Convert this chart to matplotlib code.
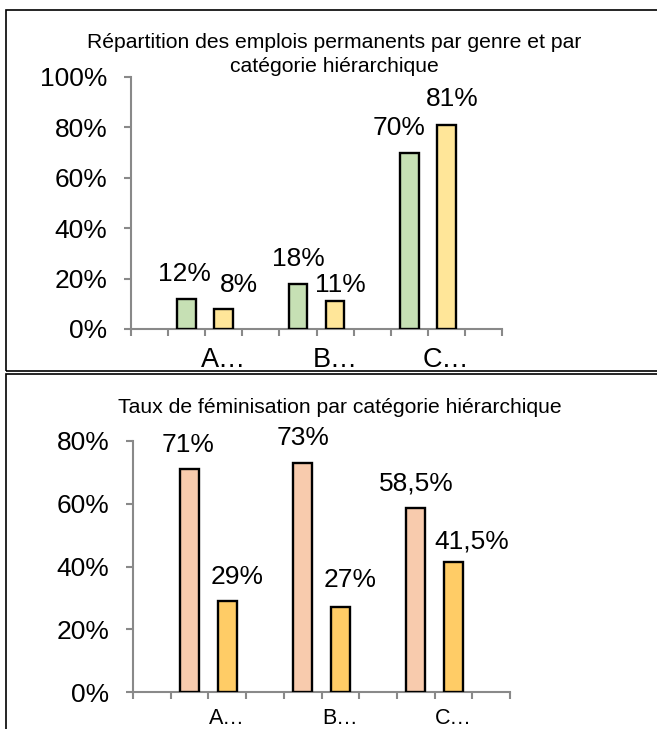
import matplotlib
matplotlib.use("Agg")
import matplotlib.pyplot as plt
from matplotlib.patches import Rectangle

plt.rcParams['font.family'] = ['Liberation Sans', 'DejaVu Sans']

# data
categories = ["A…", "B…", "C…"]
emplois_vert = [0.12, 0.18, 0.70]
emplois_jaune = [0.08, 0.11, 0.81]
femmes = [0.71, 0.73, 0.585]
hommes = [0.29, 0.27, 0.415]
yticks_top = [0, 0.2, 0.4, 0.6, 0.8, 1.0]
yticks_bot = [0, 0.2, 0.4, 0.6, 0.8]
title_top = ["Répartition des emplois permanents par genre et par", "catégorie hiérarchique"]
title_bot = "Taux de féminisation par catégorie hiérarchique"

# label nudges (pixels) to mimic the original placement
off_top = [(-2, 25), (15, 24), (0, 25), (5, 16), (-10, 25), (6, 26)]
off_bot = [(-1, 24), (10, 24), (0, 25), (10, 27), (1, 25), (18, 20)]

W, H = 657, 729
fig = plt.figure(figsize=(W / 100, H / 100), dpi=100)

# panel frames
fig.patches.append(Rectangle((6 / W, 1 - 371 / H), 1, (371 - 10) / H, transform=fig.transFigure,
                             fill=False, ec="black", lw=1.2))
fig.patches.append(Rectangle((6 / W, -0.01), 1, (729 - 374) / H + 0.01, transform=fig.transFigure,
                             fill=False, ec="black", lw=1.2))


def pct(v):
    s = ("%.1f" % (v * 100)).replace(".", ",")
    if s.endswith(",0"):
        s = s[:-2]
    return s + "%"


def draw(ax, s1, s2, c1, c2, ymax, yticks, offs, catsize, catdy):
    n = len(categories)
    x1 = [1.5 + 3 * i for i in range(n)]
    x2 = [2.5 + 3 * i for i in range(n)]
    ax.bar(x1, s1, width=0.5, color=c1, edgecolor="black", linewidth=1.7, zorder=3)
    ax.bar(x2, s2, width=0.5, color=c2, edgecolor="black", linewidth=1.7, zorder=3)
    labs = []
    for i in range(n):
        labs.append((x1[i], s1[i]))
        labs.append((x2[i], s2[i]))
    for (x, v), (dx, dy) in zip(labs, offs):
        ax.annotate(pct(v), (x, v), xytext=(dx, dy), textcoords="offset pixels",
                    ha="center", va="center", fontsize=19)
    ax.set_xlim(0, 10)
    ax.set_ylim(0, ymax)
    ax.set_yticks(yticks)
    ax.set_yticklabels([pct(t) for t in yticks])
    ax.set_xticks(range(11))
    ax.set_xticklabels([])
    for i, c in enumerate(categories):
        ax.annotate(c, (2.5 + 3 * i, 0), xytext=(0, -catdy), textcoords="offset pixels",
                    xycoords=("data", "axes fraction"), ha="center", va="center",
                    fontsize=catsize)
    for s in ["top", "right"]:
        ax.spines[s].set_visible(False)
    for s in ["left", "bottom"]:
        ax.spines[s].set_color("#898989")
        ax.spines[s].set_linewidth(1.5)
    ax.tick_params(axis="both", colors="#898989", width=1.5, length=5)
    ax.tick_params(axis="y", labelcolor="black", labelsize=19, pad=12)
    ax.set_facecolor("none")


ax1 = fig.add_axes([131 / W, 1 - 329 / H, 371 / W, 252 / H])
draw(ax1, emplois_vert, emplois_jaune, "#C6E0B4", "#FFE699", 1.0, yticks_top, off_top, 19.5, 31)
ax2 = fig.add_axes([133 / W, 1 - 692 / H, 377 / W, 251 / H])
draw(ax2, femmes, hommes, "#F8CBAD", "#FFCC66", 0.8, yticks_bot, off_bot, 15.5, 26)

fig.text(334 / W, 1 - 43 / H, title_top[0], ha="center", va="center", fontsize=15.2)
fig.text(334 / W, 1 - 66 / H, title_top[1], ha="center", va="center", fontsize=15.2)
fig.text(339.5 / W, 1 - 407 / H, title_bot, ha="center", va="center", fontsize=15.2)

fig.savefig("out.png", dpi=100)
